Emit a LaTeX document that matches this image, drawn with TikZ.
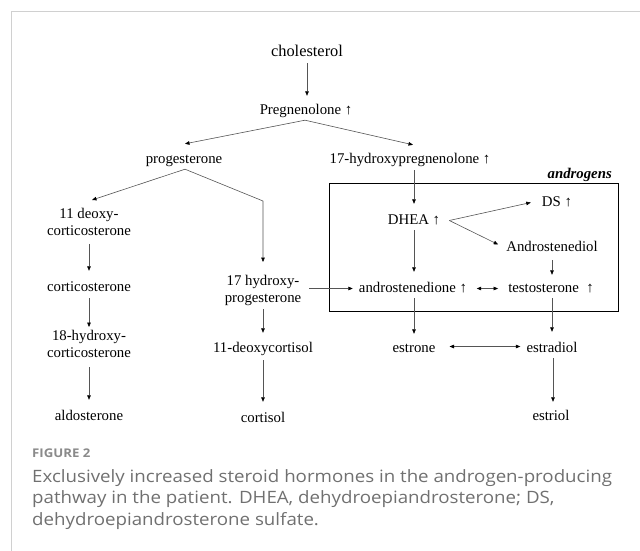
\documentclass[tikz,border=0pt]{standalone}
\usepackage{fontspec}
\setmainfont{Liberation Serif}
\newfontfamily\capfont{Open Sans}[FakeStretch=1.1]
\usetikzlibrary{arrows.meta}
\definecolor{linegray}{HTML}{555555}
\definecolor{bordergray}{HTML}{D0D0D0}
\definecolor{capgray}{HTML}{707070}
\definecolor{figgray}{HTML}{8A8A8A}
\begin{document}
\begin{tikzpicture}[x=1pt,y=-1pt,
  lbl/.style={anchor=base, inner sep=0pt, text height=10pt, text depth=3pt, font=\fontsize{14.8}{17}\selectfont},
  two/.style={anchor=north, inner sep=0pt, align=center, font=\fontsize{14.8}{17.5}\selectfont},
  arr/.style={draw=linegray, line width=0.6pt, -{Triangle[length=4.5pt,width=3.6pt,color=black]}},
  darr/.style={draw=linegray, line width=0.6pt, {Triangle[length=4.5pt,width=3.6pt,color=black]}-{Triangle[length=4.5pt,width=3.6pt,color=black]}},
  boxline/.style={draw=black, line width=0.9pt}]
\useasboundingbox (0,0) rectangle (640,551);
\draw[bordergray, line width=1.5pt] (640,11.5) -- (11.5,11.5) -- (11.5,551);

% nodes
\node[lbl, font=\fontsize{16.4}{19}\selectfont, text height=11pt] (chol) at (307,57) {cholesterol};
\node[lbl] (preg) at (306,114) {Pregnenolone ↑};
\node[lbl] (prog) at (184,163) {progesterone};
\node[lbl] (hpreg) at (410,163) {17-hydroxypregnenolone ↑};
\node[two] (doc) at (89,208) {11 deoxy-\\corticosterone};
\node[lbl] (cort) at (89,291) {corticosterone};
\node[two] (hcort) at (89,330) {18-hydroxy-\\corticosterone};
\node[lbl] (aldo) at (89,420) {aldosterone};
\node[two] (hprog) at (263,275) {17 hydroxy-\\progesterone};
\node[lbl] (dcort) at (263,352) {11-deoxycortisol};
\node[lbl] (cortisol) at (263,422) {cortisol};
\node[lbl] (dhea) at (414,224) {DHEA ↑};
\node[lbl] (ds) at (557,206) {DS ↑};
\node[lbl] (adiol) at (552,251) {Androstenediol};
\node[lbl] (adione) at (413,292) {androstenedione ↑};
\node[lbl] (testo) at (551,292) {testosterone\ \ ↑};
\node[lbl] (estrone) at (414,352) {estrone};
\node[lbl] (estradiol) at (552,352) {estradiol};
\node[lbl] (estriol) at (551,420) {estriol};

% androgens box
\draw[boxline] (329,183) rectangle (618,311);
\node[anchor=base east, inner sep=0pt, font=\bfseries\itshape\fontsize{14.8}{17}\selectfont] (andr) at (612,178) {androgens};

% connectors
\draw[arr, shorten <=3pt, shorten >=8pt] (chol.south) -- (chol.south |- preg.north);
\draw[arr] ([xshift=-1pt,yshift=-3pt]preg.south) -- ([xshift=1pt,yshift=9pt]prog.north);
\draw[arr] ([xshift=-1pt,yshift=-3pt]preg.south) -- ([xshift=3pt,yshift=8pt]hpreg.north);
\draw[arr] ([xshift=1pt,yshift=-3pt]prog.south) -- ([xshift=3pt,yshift=8pt]doc.north);
\draw[arr] ([xshift=1pt,yshift=-3pt]prog.south) -- ([yshift=74pt]hprog.north) -- ([yshift=13pt]hprog.north);
\draw[arr] ([xshift=4pt,yshift=-4pt]hpreg.south) -- ([yshift=10pt]dhea.north);
\draw[arr, shorten <=7.5pt, shorten >=10pt] (doc.south) -- (doc.south |- cort.north);
\draw[arr, shorten <=4pt, shorten >=3pt] (cort.south) -- (cort.south |- hcort.north);
\draw[arr, shorten <=9pt, shorten >=10pt] (hcort.south) -- (hcort.south |- aldo.north);
\draw[arr, shorten <=3pt, shorten >=9pt] (hprog.south) -- (hprog.south |- dcort.north);
\draw[arr, shorten <=5pt, shorten >=10pt] (dcort.south) -- (dcort.south |- cortisol.north);
\draw[arr, shorten <=8pt, shorten >=6pt] (hprog.east |- adione) -- (adione.west);
\draw[arr] ([xshift=9pt]dhea.east) -- ([xshift=-11pt]ds.west);
\draw[arr] ([xshift=9pt]dhea.east) -- ([xshift=-8pt,yshift=3pt]adiol.west);
\draw[arr, shorten <=3pt, shorten >=10pt] (dhea.south) -- (dhea.south |- adione.north);
\draw[arr, shorten <=6pt, shorten >=7pt] (adiol.south) -- (adiol.south |- testo.north);
\draw[darr, shorten <=9.5pt, shorten >=10pt] (adione.east) -- (testo.west);
\draw[arr, shorten <=3pt, shorten >=8pt] ([xshift=1pt]adione.south) -- ([xshift=1pt]adione.south |- estrone.north);
\draw[arr, shorten <=3pt, shorten >=10pt] ([xshift=1pt]testo.south) -- ([xshift=1pt]testo.south |- estradiol.north);
\draw[darr, shorten <=14pt, shorten >=6pt] ([yshift=2pt]estrone.east) -- ([yshift=2pt]estradiol.west);
\draw[arr, shorten <=3pt, shorten >=8pt] ([xshift=1pt]estradiol.south) -- ([xshift=1pt]estradiol.south |- estriol.north);

% caption
\node[anchor=base west, inner sep=0pt, font=\capfont\bfseries\fontsize{12}{15}\selectfont, text=figgray] (fig) at (32,457) {FIGURE 2};
\node[anchor=north west, inner sep=0pt, align=left, font=\capfont\fontsize{17}{21.5}\selectfont, text=capgray] (cap) at (32,469) {Exclusively increased steroid hormones in the androgen-producing\\pathway in the patient. DHEA, dehydroepiandrosterone; DS,\\dehydroepiandrosterone sulfate.};
\end{tikzpicture}
\end{document}
